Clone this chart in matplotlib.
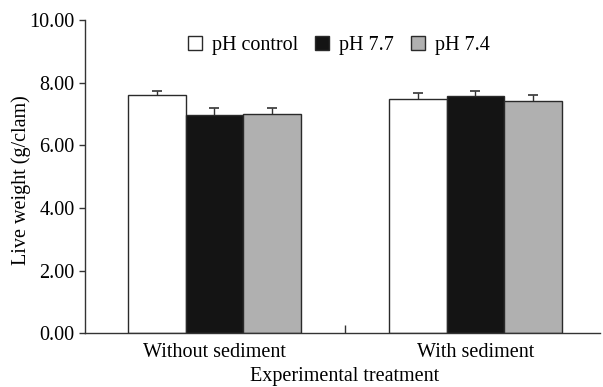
import matplotlib
matplotlib.use("Agg")
import matplotlib.pyplot as plt
import numpy as np

plt.rcParams['font.family'] = ['Liberation Serif', 'DejaVu Serif']

# data
groups = ['Without sediment', 'With sediment']
series = ['pH control', 'pH 7.7', 'pH 7.4']
values = [[7.61, 7.48],
          [6.96, 7.57],
          [7.01, 7.41]]
errors = [[0.14, 0.20],
          [0.24, 0.16],
          [0.19, 0.20]]
colors = ['white', '#141414', '#b0b0b0']

fig = plt.figure(figsize=(6.03, 3.87), dpi=100)
ax = fig.add_axes([0.141, 0.139, 0.854, 0.809])

x = np.arange(len(groups))
w = 0.221
for i in range(len(series)):
    ax.bar(x + (i - 1) * w, values[i], w, color=colors[i], edgecolor='#2a2a2a',
           linewidth=1.0, label=series[i], zorder=2)
    # only the upper half of the error bar is visible above the bar
    ax.errorbar(x + (i - 1) * w, values[i], yerr=errors[i],
                fmt='none', ecolor='#333333', elinewidth=1.0, capsize=3.5, capthick=1.2, zorder=1)

ax.set_xlim(-0.496, 1.477)
ax.set_ylim(0, 10)
ax.set_yticks(np.arange(0, 10.01, 2))
ax.set_yticklabels(['%.2f' % v for v in np.arange(0, 10.01, 2)])
ax.set_xticks([0.5])
ax.set_xticklabels([''])
ax.tick_params(axis='x', direction='in', length=6, width=1, color='#333333')
ax.tick_params(axis='y', direction='out', length=4, width=1, color='#333333', labelsize=14.5)
for i, g in enumerate(groups):
    ax.text(x[i], -0.3, g, ha='center', va='top', fontsize=14.5)
ax.text(0.5, -1.07, 'Experimental treatment', ha='center', va='top', fontsize=14.5)
ax.set_ylabel('Live weight (g/clam)', fontsize=14.5)
ax.yaxis.set_label_coords(-0.104, 0.49)

for s in ['top', 'right']:
    ax.spines[s].set_visible(False)
for s in ['left', 'bottom']:
    ax.spines[s].set_color('#333333')
    ax.spines[s].set_linewidth(1.0)

ax.legend(loc='center', bbox_to_anchor=(0.493, 0.92), ncol=3, frameon=False,
          fontsize=14.5, handlelength=0.7, handleheight=0.7, handletextpad=0.5,
          columnspacing=0.85, borderpad=0)

fig.savefig('out.png', dpi=100)
